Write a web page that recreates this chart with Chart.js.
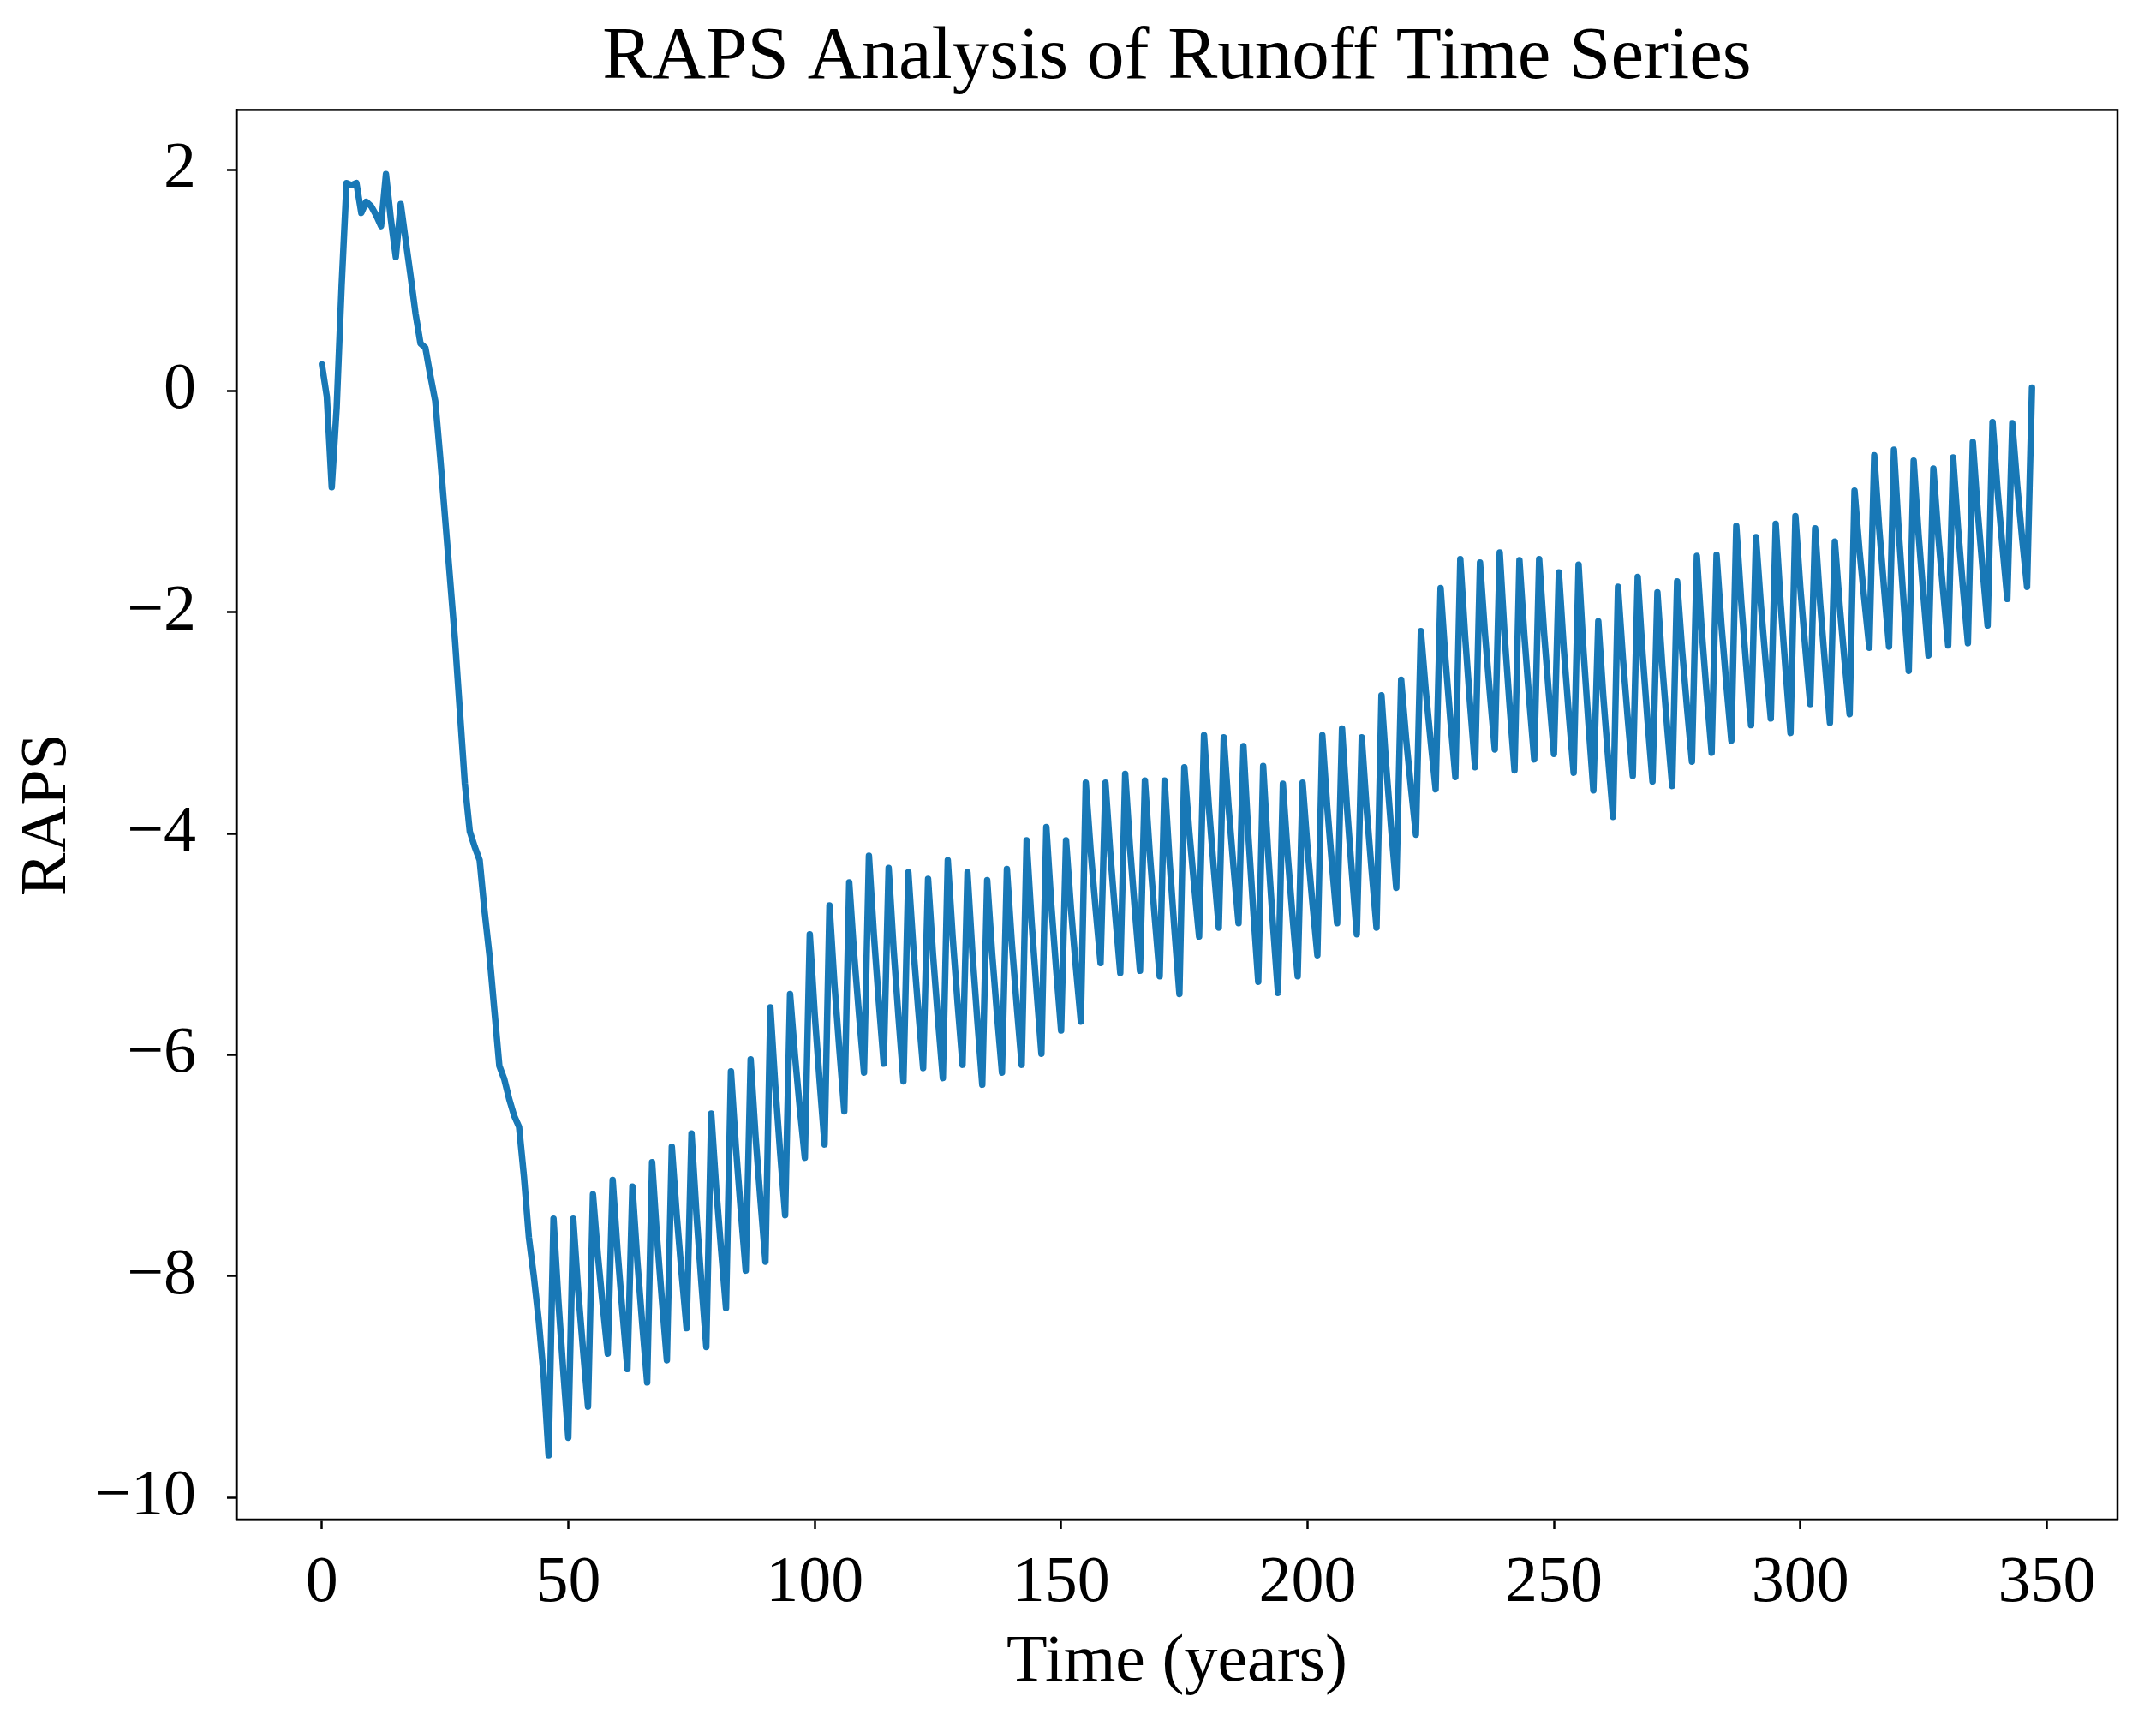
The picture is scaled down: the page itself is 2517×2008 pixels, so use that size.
<!DOCTYPE html>
<html>
<head>
<meta charset="utf-8">
<title>RAPS Analysis of Runoff Time Series</title>
<script src="https://cdn.jsdelivr.net/npm/chart.js@4.4.1/dist/chart.umd.min.js"></script>
<style>
    html, body { margin: 0; padding: 0; background: #fff; }
    #wrap { width: 2517px; height: 2008px; }
</style>
</head>
<body>
<div id="wrap"><canvas id="rapsChart"></canvas></div>
<script>
// RAPS values, index = year (0..347)
const raps000 = [0.24, -0.05, -0.87, -0.15, 0.95, 1.88, 1.86, 1.88, 1.61, 1.71,
    1.67, 1.59, 1.49, 1.96, 1.55, 1.21, 1.69, 1.36, 1.04, 0.70,
    0.43, 0.39, 0.14, -0.09, -0.60, -1.15, -1.70, -2.25, -2.90, -3.55,
    -3.98, -4.12, -4.24, -4.70, -5.10, -5.60, -6.10, -6.22, -6.40, -6.55,
    -6.65, -7.10, -7.65, -8.00, -8.40, -8.90, -9.62, -7.48, -8.23, -8.87];
const raps050 = [-9.46, -7.48, -8.13, -8.67, -9.18, -7.26, -7.81, -8.27, -8.70, -7.13,
    -7.78, -8.33, -8.84, -7.19, -7.86, -8.43, -8.96, -6.97, -7.65, -8.22,
    -8.76, -6.83, -7.45, -7.98, -8.47, -6.71, -7.44, -8.06, -8.64, -6.53,
    -7.20, -7.76, -8.29, -6.15, -6.83, -7.41, -7.95, -6.04, -6.74, -7.32,
    -7.87, -5.57, -6.28, -6.89, -7.45, -5.45, -6.01, -6.49, -6.93, -4.91];
const raps100 = [-5.63, -6.24, -6.81, -4.65, -5.36, -5.95, -6.51, -4.44, -5.09, -5.64,
    -6.16, -4.20, -4.91, -5.52, -6.08, -4.31, -5.04, -5.66, -6.24, -4.35,
    -5.02, -5.59, -6.12, -4.41, -5.09, -5.67, -6.21, -4.24, -4.94, -5.54,
    -6.09, -4.35, -5.08, -5.69, -6.27, -4.42, -5.08, -5.64, -6.16, -4.32,
    -4.99, -5.56, -6.09, -4.06, -4.79, -5.41, -5.99, -3.94, -4.64, -5.23];
const raps150 = [-5.78, -4.06, -4.68, -5.21, -5.70, -3.54, -4.16, -4.68, -5.17, -3.54,
    -4.19, -4.74, -5.26, -3.46, -4.14, -4.71, -5.24, -3.52, -4.19, -4.76,
    -5.29, -3.52, -4.25, -4.87, -5.45, -3.40, -3.98, -4.47, -4.93, -3.11,
    -3.77, -4.33, -4.85, -3.13, -3.77, -4.31, -4.81, -3.21, -4.02, -4.70,
    -5.34, -3.39, -4.17, -4.83, -5.44, -3.55, -4.21, -4.77, -5.29, -3.54];
const raps200 = [-4.13, -4.63, -5.10, -3.11, -3.76, -4.30, -4.81, -3.05, -3.76, -4.35,
    -4.91, -3.13, -3.78, -4.33, -4.85, -2.75, -3.41, -3.97, -4.49, -2.61,
    -3.14, -3.59, -4.01, -2.17, -2.71, -3.17, -3.60, -1.78, -2.43, -2.98,
    -3.49, -1.52, -2.23, -2.84, -3.40, -1.55, -2.19, -2.73, -3.24, -1.46,
    -2.21, -2.84, -3.43, -1.53, -2.21, -2.79, -3.33, -1.52, -2.19, -2.75];
const raps250 = [-3.28, -1.64, -2.33, -2.91, -3.45, -1.57, -2.35, -3.00, -3.61, -2.08,
    -2.75, -3.32, -3.85, -1.77, -2.42, -2.97, -3.48, -1.68, -2.38, -2.98,
    -3.53, -1.82, -2.49, -3.05, -3.57, -1.72, -2.34, -2.86, -3.35, -1.49,
    -2.17, -2.74, -3.27, -1.48, -2.12, -2.66, -3.16, -1.22, -1.90, -2.48,
    -3.02, -1.32, -1.94, -2.47, -2.96, -1.20, -1.92, -2.52, -3.09, -1.13];
const raps300 = [-1.78, -2.32, -2.83, -1.24, -1.91, -2.47, -3.00, -1.36, -1.95, -2.45,
    -2.92, -0.90, -1.44, -1.89, -2.32, -0.58, -1.24, -1.79, -2.31, -0.53,
    -1.29, -1.93, -2.53, -0.63, -1.30, -1.86, -2.39, -0.70, -1.31, -1.82,
    -2.30, -0.60, -1.24, -1.78, -2.28, -0.46, -1.09, -1.62, -2.12, -0.28,
    -0.89, -1.40, -1.88, -0.29, -0.85, -1.33, -1.77, 0.03];

const xTicks = [0, 50, 100, 150, 200, 250, 300, 350];
const yTicks = [-10, -8, -6, -4, -2, 0, 2];

const rapsValues = [].concat(raps000, raps050, raps100, raps150, raps200, raps250, raps300);
const rapsPoints = rapsValues.map((v, i) => ({ x: i, y: v }));

function minusLabel(v) {
    return v < 0 ? '\u2212' + Math.abs(v) : String(v);
}

// box round the plot area (matplotlib spines)
const frame = {
    id: 'frame',
    afterDraw(chart) {
        const a = chart.chartArea;
        const c = chart.ctx;
        c.save();
        c.strokeStyle = '#000';
        c.lineWidth = 2.5;
        c.strokeRect(a.left, a.top, a.right - a.left, a.bottom - a.top);
        c.restore();
    }
};

Chart.defaults.font.family = "'Liberation Serif', 'Times New Roman', serif";
Chart.defaults.color = '#000';

let ctx = document.getElementById('rapsChart').getContext('2d');
let rapsChart = new Chart(ctx, {
    type: 'line',
    data: {
        datasets: [{
            label: 'RAPS',
            data: rapsPoints,
            borderColor: '#1878b6',
            borderWidth: 7.5,
            pointRadius: 0,
            tension: 0,
            borderJoinStyle: 'round',
            borderCapStyle: 'round'
        }]
    },
    options: {
        animation: false,
        responsive: true,
        maintainAspectRatio: false,
        devicePixelRatio: 1,
        layout: { padding: { left: 0, right: 45, top: 0, bottom: 0 } },
        plugins: {
            legend: { display: false },
            tooltip: { enabled: false },
            title: {
                display: true,
                fullSize: false,   // centre over the plot area like matplotlib
                text: 'RAPS Analysis of Runoff Time Series',
                color: '#000',
                font: { size: 87, weight: 'normal' },
                padding: { top: 16, bottom: 8 }
            }
        },
        scales: {
            x: {
                type: 'linear',
                min: -17.35,
                max: 364.35,
                afterBuildTicks: s => { s.ticks = xTicks.map(v => ({ value: v })); },
                afterFit: s => { s.height = 234; },
                ticks: { font: { size: 76 }, padding: 18, maxRotation: 0, autoSkip: false, callback: minusLabel },
                grid: { drawOnChartArea: false, tickLength: 11, tickWidth: 2.5, tickColor: '#000' },
                border: { color: '#000', width: 2.5 },
                title: { display: true, text: 'Time (years)', font: { size: 78 }, padding: { top: 0, bottom: 20 } }
            },
            y: {
                type: 'linear',
                min: -10.2,
                max: 2.54,
                afterBuildTicks: s => { s.ticks = yTicks.map(v => ({ value: v })); },
                afterFit: s => { s.width = 276; },
                ticks: { font: { size: 76 }, padding: 36, autoSkip: false, callback: minusLabel },
                grid: { drawOnChartArea: false, tickLength: 11, tickWidth: 2.5, tickColor: '#000' },
                border: { color: '#000', width: 2.5 },
                title: { display: true, text: 'RAPS', font: { size: 76 }, padding: { top: 10, bottom: 0 } }
            }
        }
    },
    plugins: [frame]
});
</script>
</body>
</html>
